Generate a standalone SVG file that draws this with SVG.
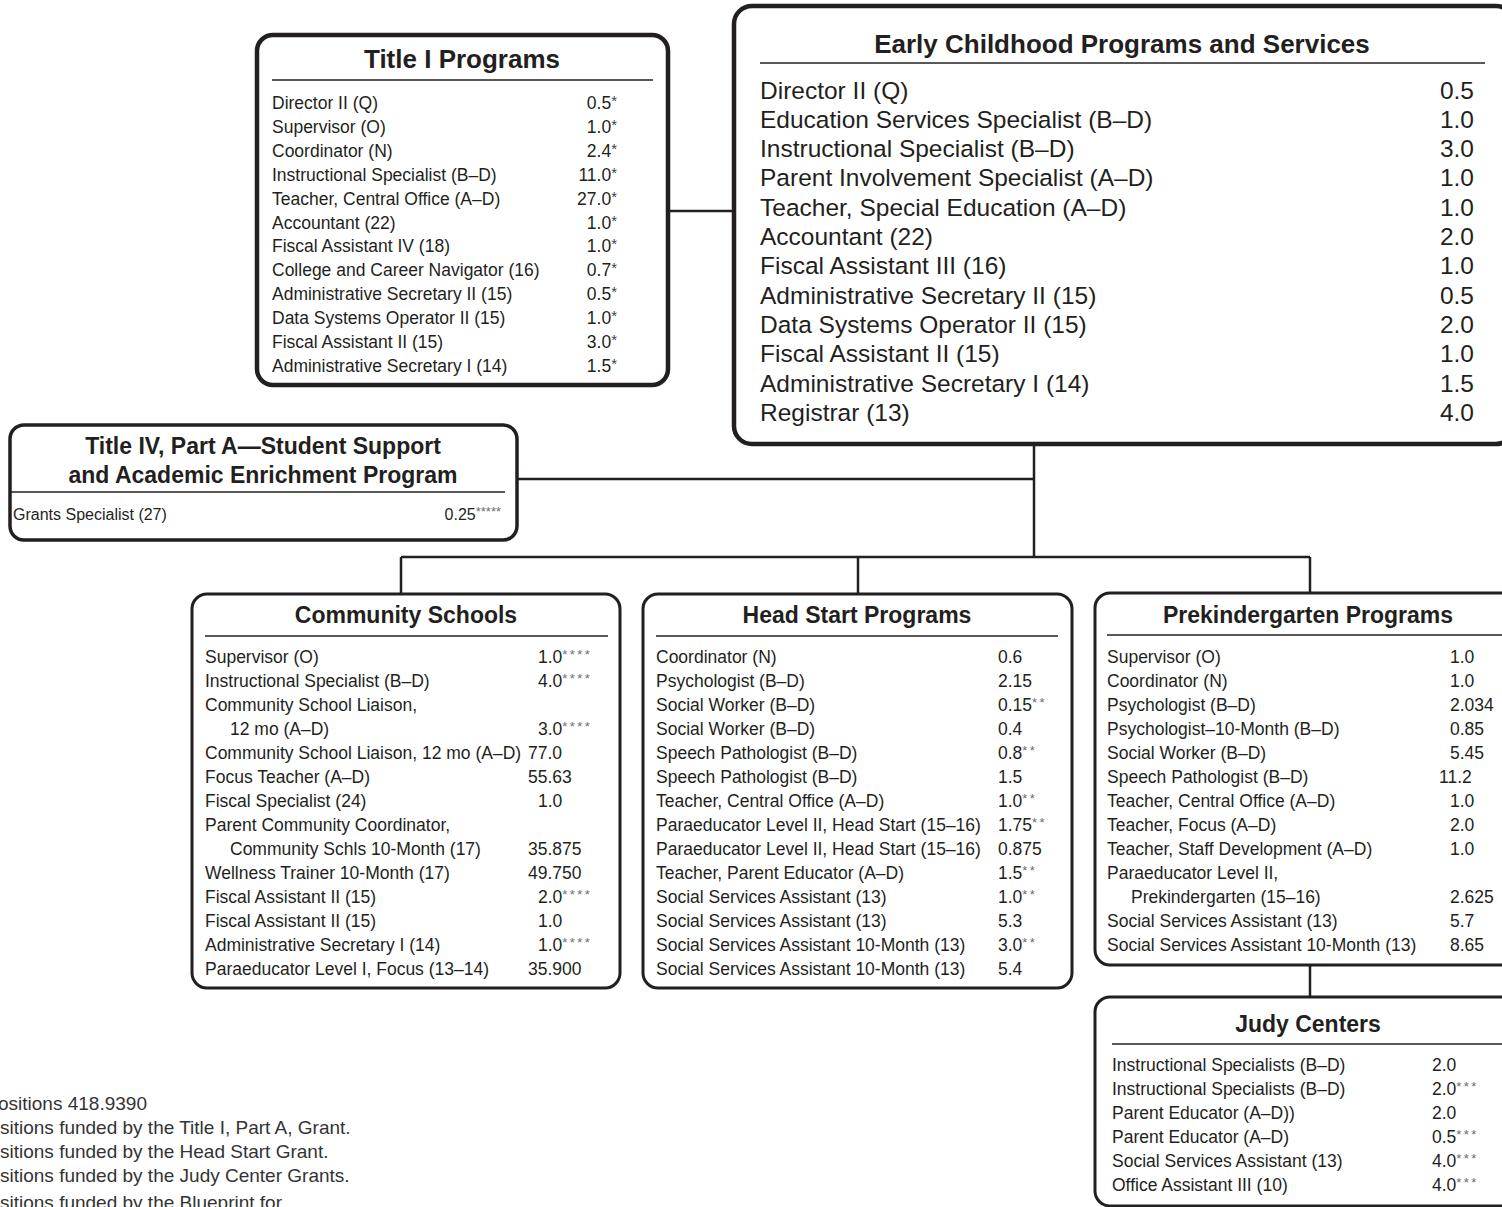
<svg xmlns="http://www.w3.org/2000/svg" width="1502" height="1207" viewBox="0 0 1502 1207">
  <style>
    .box { fill: #ffffff; stroke: #231f20; stroke-width: 3; }
    .heavy { stroke-width: 4.5; }
    .mid { stroke-width: 3.5; }
    .rule { stroke: #231f20; stroke-width: 1.3; }
    .conn { fill: none; stroke: #231f20; stroke-width: 2.5; }
    text { font-family: "Liberation Sans", Arial, sans-serif; fill: #231f20; }
    .hd { font-weight: bold; text-anchor: middle; font-size: 23px; }
    .hd26 { font-size: 26px; }
    .row { font-size: 17.5px; }
    .big { font-size: 24.5px; }
    .small { font-size: 16px; }
    .end { text-anchor: end; }
    .ast { font-size: 13px; fill: #6d6e71; letter-spacing: 2.4px; }
    .ast5 { font-size: 13px; fill: #6d6e71; }
    .ast1 { font-size: 15px; fill: #414042; }
    .note { font-size: 19px; fill: #333333; }
  </style>

  <!-- connectors -->
  <g id="connectors">
    <path class="conn" d="M668 211 H734"/>
    <path class="conn" d="M1034 444 V557"/>
    <path class="conn" d="M517 479 H1034"/>
    <path class="conn" d="M401 557 H1310"/>
    <path class="conn" d="M401 557 V594"/>
    <path class="conn" d="M858 557 V594"/>
    <path class="conn" d="M1310 557 V593"/>
    <path class="conn" d="M1310 965 V997"/>
  </g>

  <!-- Title I Programs -->
  <g id="title-i">
    <rect class="box heavy" x="257" y="35" width="411" height="350" rx="16"/>
    <text class="hd hd26" x="462" y="68">Title I Programs</text>
    <line class="rule" x1="272" y1="80" x2="653" y2="80"/>
    <g class="row">
      <text x="272" y="109">Director II (Q)</text>
      <text x="272" y="132.9">Supervisor (O)</text>
      <text x="272" y="156.8">Coordinator (N)</text>
      <text x="272" y="180.7">Instructional Specialist (B–D)</text>
      <text x="272" y="204.6">Teacher, Central Office (A–D)</text>
      <text x="272" y="228.5">Accountant (22)</text>
      <text x="272" y="252.4">Fiscal Assistant IV (18)</text>
      <text x="272" y="276.3">College and Career Navigator (16)</text>
      <text x="272" y="300.2">Administrative Secretary II (15)</text>
      <text x="272" y="324.1">Data Systems Operator II (15)</text>
      <text x="272" y="348">Fiscal Assistant II (15)</text>
      <text x="272" y="371.9">Administrative Secretary I (14)</text>
    </g>
    <g class="row">
      <text class="end" x="617" y="109">0.5<tspan class="ast1" dy="-3">*</tspan></text>
      <text class="end" x="617" y="132.9">1.0<tspan class="ast1" dy="-3">*</tspan></text>
      <text class="end" x="617" y="156.8">2.4<tspan class="ast1" dy="-3">*</tspan></text>
      <text class="end" x="617" y="180.7">11.0<tspan class="ast1" dy="-3">*</tspan></text>
      <text class="end" x="617" y="204.6">27.0<tspan class="ast1" dy="-3">*</tspan></text>
      <text class="end" x="617" y="228.5">1.0<tspan class="ast1" dy="-3">*</tspan></text>
      <text class="end" x="617" y="252.4">1.0<tspan class="ast1" dy="-3">*</tspan></text>
      <text class="end" x="617" y="276.3">0.7<tspan class="ast1" dy="-3">*</tspan></text>
      <text class="end" x="617" y="300.2">0.5<tspan class="ast1" dy="-3">*</tspan></text>
      <text class="end" x="617" y="324.1">1.0<tspan class="ast1" dy="-3">*</tspan></text>
      <text class="end" x="617" y="348">3.0<tspan class="ast1" dy="-3">*</tspan></text>
      <text class="end" x="617" y="371.9">1.5<tspan class="ast1" dy="-3">*</tspan></text>
    </g>
  </g>

  <!-- Early Childhood Programs and Services -->
  <g id="early-childhood">
    <rect class="box heavy" x="734" y="6" width="780" height="438" rx="18"/>
    <text class="hd hd26" x="1122" y="53">Early Childhood Programs and Services</text>
    <line class="rule" x1="760" y1="63" x2="1485" y2="63"/>
    <g class="big">
      <text x="760" y="98.5">Director II (Q)</text>
      <text x="760" y="127.8">Education Services Specialist (B–D)</text>
      <text x="760" y="157.1">Instructional Specialist (B–D)</text>
      <text x="760" y="186.4">Parent Involvement Specialist (A–D)</text>
      <text x="760" y="215.7">Teacher, Special Education (A–D)</text>
      <text x="760" y="245">Accountant (22)</text>
      <text x="760" y="274.3">Fiscal Assistant III (16)</text>
      <text x="760" y="303.6">Administrative Secretary II (15)</text>
      <text x="760" y="332.9">Data Systems Operator II (15)</text>
      <text x="760" y="362.2">Fiscal Assistant II (15)</text>
      <text x="760" y="391.5">Administrative Secretary I (14)</text>
      <text x="760" y="420.8">Registrar (13)</text>
    </g>
    <g class="big">
      <text class="end" x="1474" y="98.5">0.5</text>
      <text class="end" x="1474" y="127.8">1.0</text>
      <text class="end" x="1474" y="157.1">3.0</text>
      <text class="end" x="1474" y="186.4">1.0</text>
      <text class="end" x="1474" y="215.7">1.0</text>
      <text class="end" x="1474" y="245">2.0</text>
      <text class="end" x="1474" y="274.3">1.0</text>
      <text class="end" x="1474" y="303.6">0.5</text>
      <text class="end" x="1474" y="332.9">2.0</text>
      <text class="end" x="1474" y="362.2">1.0</text>
      <text class="end" x="1474" y="391.5">1.5</text>
      <text class="end" x="1474" y="420.8">4.0</text>
    </g>
  </g>

  <!-- Title IV, Part A -->
  <g id="title-iv">
    <rect class="box mid" x="10" y="425" width="507" height="115" rx="14"/>
    <text class="hd" x="263" y="454">Title IV, Part A—Student Support</text>
    <text class="hd" x="263" y="483">and Academic Enrichment Program</text>
    <line class="rule" x1="11" y1="492" x2="505" y2="492"/>
    <text class="small" x="13" y="520">Grants Specialist (27)</text>
    <text class="small end" x="501" y="520">0.25<tspan class="ast5" dy="-4">*****</tspan></text>
  </g>

  <!-- Community Schools -->
  <g id="community-schools">
    <rect class="box" x="192" y="594" width="428" height="394" rx="15"/>
    <text class="hd" x="406" y="623">Community Schools</text>
    <line class="rule" x1="205" y1="636" x2="608" y2="636"/>
    <g class="row">
      <text x="205" y="663">Supervisor (O)</text>
      <text x="205" y="687">Instructional Specialist (B–D)</text>
      <text x="205" y="711">Community School Liaison,</text>
      <text x="230" y="735">12 mo (A–D)</text>
      <text x="205" y="759">Community School Liaison, 12 mo (A–D)</text>
      <text x="205" y="783">Focus Teacher (A–D)</text>
      <text x="205" y="807">Fiscal Specialist (24)</text>
      <text x="205" y="831">Parent Community Coordinator,</text>
      <text x="230" y="855">Community Schls 10-Month (17)</text>
      <text x="205" y="879">Wellness Trainer 10-Month (17)</text>
      <text x="205" y="903">Fiscal Assistant II (15)</text>
      <text x="205" y="927">Fiscal Assistant II (15)</text>
      <text x="205" y="951">Administrative Secretary I (14)</text>
      <text x="205" y="975">Paraeducator Level I, Focus (13–14)</text>
    </g>
    <g class="row">
      <text x="538" y="663">1.0<tspan class="ast" dy="-4">****</tspan></text>
      <text x="538" y="687">4.0<tspan class="ast" dy="-4">****</tspan></text>
      <text x="538" y="735">3.0<tspan class="ast" dy="-4">****</tspan></text>
      <text x="528" y="759">77.0</text>
      <text x="528" y="783">55.63</text>
      <text x="538" y="807">1.0</text>
      <text x="528" y="855">35.875</text>
      <text x="528" y="879">49.750</text>
      <text x="538" y="903">2.0<tspan class="ast" dy="-4">****</tspan></text>
      <text x="538" y="927">1.0</text>
      <text x="538" y="951">1.0<tspan class="ast" dy="-4">****</tspan></text>
      <text x="528" y="975">35.900</text>
    </g>
  </g>

  <!-- Head Start Programs -->
  <g id="head-start">
    <rect class="box" x="643" y="594" width="429" height="394" rx="15"/>
    <text class="hd" x="857" y="623">Head Start Programs</text>
    <line class="rule" x1="656" y1="636" x2="1058" y2="636"/>
    <g class="row">
      <text x="656" y="663">Coordinator (N)</text>
      <text x="656" y="687">Psychologist (B–D)</text>
      <text x="656" y="711">Social Worker (B–D)</text>
      <text x="656" y="735">Social Worker (B–D)</text>
      <text x="656" y="759">Speech Pathologist (B–D)</text>
      <text x="656" y="783">Speech Pathologist (B–D)</text>
      <text x="656" y="807">Teacher, Central Office (A–D)</text>
      <text x="656" y="831">Paraeducator Level II, Head Start (15–16)</text>
      <text x="656" y="855">Paraeducator Level II, Head Start (15–16)</text>
      <text x="656" y="879">Teacher, Parent Educator (A–D)</text>
      <text x="656" y="903">Social Services Assistant (13)</text>
      <text x="656" y="927">Social Services Assistant (13)</text>
      <text x="656" y="951">Social Services Assistant 10-Month (13)</text>
      <text x="656" y="975">Social Services Assistant 10-Month (13)</text>
    </g>
    <g class="row">
      <text x="998" y="663">0.6</text>
      <text x="998" y="687">2.15</text>
      <text x="998" y="711">0.15<tspan class="ast" dy="-4">**</tspan></text>
      <text x="998" y="735">0.4</text>
      <text x="998" y="759">0.8<tspan class="ast" dy="-4">**</tspan></text>
      <text x="998" y="783">1.5</text>
      <text x="998" y="807">1.0<tspan class="ast" dy="-4">**</tspan></text>
      <text x="998" y="831">1.75<tspan class="ast" dy="-4">**</tspan></text>
      <text x="998" y="855">0.875</text>
      <text x="998" y="879">1.5<tspan class="ast" dy="-4">**</tspan></text>
      <text x="998" y="903">1.0<tspan class="ast" dy="-4">**</tspan></text>
      <text x="998" y="927">5.3</text>
      <text x="998" y="951">3.0<tspan class="ast" dy="-4">**</tspan></text>
      <text x="998" y="975">5.4</text>
    </g>
  </g>

  <!-- Prekindergarten Programs -->
  <g id="prekindergarten">
    <rect class="box" x="1095" y="593" width="426" height="372" rx="15"/>
    <text class="hd" x="1308" y="623">Prekindergarten Programs</text>
    <line class="rule" x1="1107" y1="635" x2="1507" y2="635"/>
    <g class="row">
      <text x="1107" y="663">Supervisor (O)</text>
      <text x="1107" y="687">Coordinator (N)</text>
      <text x="1107" y="711">Psychologist (B–D)</text>
      <text x="1107" y="735">Psychologist–10-Month (B–D)</text>
      <text x="1107" y="759">Social Worker (B–D)</text>
      <text x="1107" y="783">Speech Pathologist (B–D)</text>
      <text x="1107" y="807">Teacher, Central Office (A–D)</text>
      <text x="1107" y="831">Teacher, Focus (A–D)</text>
      <text x="1107" y="855">Teacher, Staff Development (A–D)</text>
      <text x="1107" y="879">Paraeducator Level II,</text>
      <text x="1131" y="903">Prekindergarten (15–16)</text>
      <text x="1107" y="927">Social Services Assistant (13)</text>
      <text x="1107" y="951">Social Services Assistant 10-Month (13)</text>
    </g>
    <g class="row">
      <text x="1450" y="663">1.0</text>
      <text x="1450" y="687">1.0</text>
      <text x="1450" y="711">2.034</text>
      <text x="1450" y="735">0.85</text>
      <text x="1450" y="759">5.45</text>
      <text x="1439" y="783">11.2</text>
      <text x="1450" y="807">1.0</text>
      <text x="1450" y="831">2.0</text>
      <text x="1450" y="855">1.0</text>
      <text x="1450" y="903">2.625</text>
      <text x="1450" y="927">5.7</text>
      <text x="1450" y="951">8.65</text>
    </g>
  </g>

  <!-- Judy Centers -->
  <g id="judy-centers">
    <rect class="box" x="1095" y="997" width="426" height="209" rx="15"/>
    <text class="hd" x="1308" y="1032">Judy Centers</text>
    <line class="rule" x1="1112" y1="1044" x2="1504" y2="1044"/>
    <g class="row">
      <text x="1112" y="1071">Instructional Specialists (B–D)</text>
      <text x="1112" y="1095">Instructional Specialists (B–D)</text>
      <text x="1112" y="1119">Parent Educator (A–D))</text>
      <text x="1112" y="1143">Parent Educator (A–D)</text>
      <text x="1112" y="1167">Social Services Assistant (13)</text>
      <text x="1112" y="1191">Office Assistant III (10)</text>
    </g>
    <g class="row">
      <text x="1432" y="1071">2.0</text>
      <text x="1432" y="1095">2.0<tspan class="ast" dy="-4">***</tspan></text>
      <text x="1432" y="1119">2.0</text>
      <text x="1432" y="1143">0.5<tspan class="ast" dy="-4">***</tspan></text>
      <text x="1432" y="1167">4.0<tspan class="ast" dy="-4">***</tspan></text>
      <text x="1432" y="1191">4.0<tspan class="ast" dy="-4">***</tspan></text>
    </g>
  </g>

  <!-- footnotes, running off the left and bottom edges -->
  <g id="notes">
    <text class="note" x="-2" y="1110">ositions 418.9390</text>
    <text class="note" x="0" y="1134">sitions funded by the Title I, Part A, Grant.</text>
    <text class="note" x="0" y="1158">sitions funded by the Head Start Grant.</text>
    <text class="note" x="0" y="1182">sitions funded by the Judy Center Grants.</text>
    <text class="note" x="0" y="1209">sitions funded by the Blueprint for</text>
  </g>
</svg>
